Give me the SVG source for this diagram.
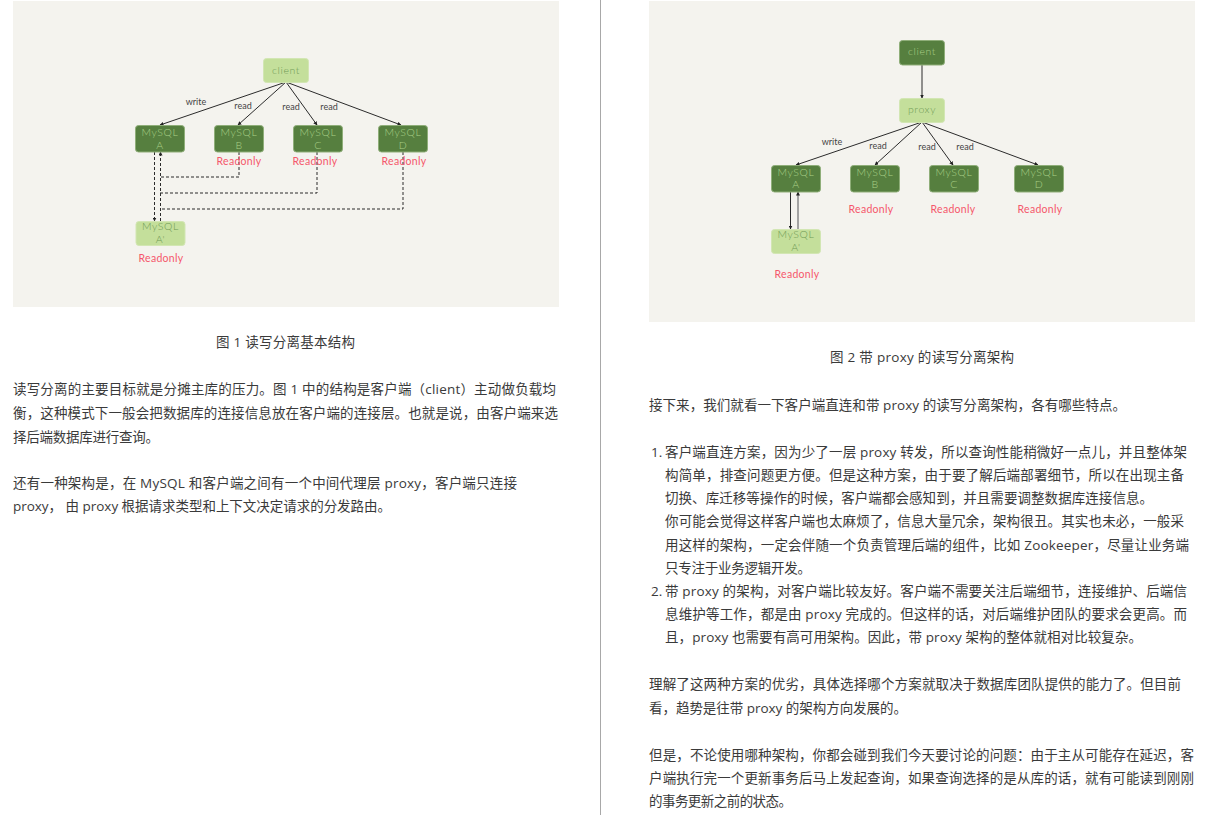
<svg xmlns="http://www.w3.org/2000/svg" width="1210" height="815" viewBox="0 0 1210 815">
<style>
.t{font-family:"Open Sans","Noto Sans CJK SC",sans-serif;font-size:13.5px;fill:#3a3a3a}
.n{font-family:"Lato","Liberation Sans",sans-serif;font-size:10.500px;text-anchor:middle;font-weight:300;letter-spacing:.6px}
.dk{fill:#567f3f;stroke:#8fae79;stroke-width:1}
.lt{fill:#c4df9b;stroke:#d2e6b3;stroke-width:1}
.dt{fill:#a9cf87}
.lg{fill:#6f9a55}
.l{font-family:"Lato","Liberation Sans",sans-serif;font-size:9px;fill:#444;text-anchor:middle}
.r{font-family:"Lato","Liberation Sans",sans-serif;font-size:10.500px;fill:#f5576b;text-anchor:middle;letter-spacing:.3px}
.a{fill:none;stroke:#2b2b2b;stroke-width:1;marker-end:url(#ah)}
.d{fill:none;stroke:#2b2b2b;stroke-width:1;stroke-dasharray:3 2}
.da{marker-end:url(#ah)}
</style>
<defs><marker id="ah" markerWidth="4" markerHeight="4" refX="3.500" refY="2" orient="auto" markerUnits="userSpaceOnUse"><path d="M0,0L4,2L0,4Z" fill="#222"/></marker></defs>
<rect width="1210" height="815" fill="#fff"/>
<rect x="13" y="1" width="546" height="306" fill="#f4f3ee"/>
<rect x="649" y="1" width="546" height="321" fill="#f4f3ee"/>
<line x1="600.5" y1="0" x2="600.5" y2="815" stroke="#a8a8a8"/>
<g id="connectors">
<path class="a" d="M286,82L160,125"/><path class="a" d="M286,82L238,125"/><path class="a" d="M286,82L317,125"/><path class="a" d="M286,82L401,125"/>
<path class="d da" d="M154.500,152V221"/><path class="d da" d="M160.500,221V152"/>
<path class="d" d="M239,152V177H160"/><path class="d" d="M317,152V193H160"/><path class="d" d="M403,152V209H160"/>
<path class="a" d="M922,65V98"/><path class="a" d="M922,122L796,165"/><path class="a" d="M922,122L875,165"/><path class="a" d="M922,122L953,165"/><path class="a" d="M922,122L1038,165"/>
<path class="a" d="M790.500,192V229"/><path class="a" d="M798,229V192" style="stroke:#888;stroke-width:1.500"/>
</g>
<g id="d1-client"><rect class="lt" x="263.500" y="58.500" width="45" height="24" rx="3"/><text class="n lg" x="286" y="74">client</text></g>
<g id="d1-a"><rect class="dk" x="135.500" y="125.500" width="49" height="26.500" rx="3"/><text class="n dt" x="160" y="136">MySQL</text><text class="n dt" x="160" y="149">A</text></g>
<g id="d1-b"><rect class="dk" x="214.500" y="125.500" width="49" height="26.500" rx="3"/><text class="n dt" x="239" y="136">MySQL</text><text class="n dt" x="239" y="149">B</text></g>
<g id="d1-c"><rect class="dk" x="293.500" y="125.500" width="49" height="26.500" rx="3"/><text class="n dt" x="318" y="136">MySQL</text><text class="n dt" x="318" y="149">C</text></g>
<g id="d1-d"><rect class="dk" x="378.500" y="125.500" width="49" height="26.500" rx="3"/><text class="n dt" x="403" y="136">MySQL</text><text class="n dt" x="403" y="149">D</text></g>
<g id="d1-a2"><rect class="lt" x="136" y="221.500" width="49" height="24" rx="3"/><text class="n lg" x="160.500" y="230">MySQL</text><text class="n lg" x="160.500" y="243">A'</text></g>
<g id="d2-client"><rect class="dk" x="899.500" y="40.500" width="45" height="24.500" rx="3"/><text class="n dt" x="922" y="55">client</text></g>
<g id="d2-proxy"><rect class="lt" x="899.500" y="98.500" width="45" height="24" rx="3"/><text class="n lg" x="922" y="113">proxy</text></g>
<g id="d2-a"><rect class="dk" x="771.500" y="165.500" width="49" height="26.500" rx="3"/><text class="n dt" x="796" y="176">MySQL</text><text class="n dt" x="796" y="188">A</text></g>
<g id="d2-b"><rect class="dk" x="850.500" y="165.500" width="49" height="26.500" rx="3"/><text class="n dt" x="875" y="176">MySQL</text><text class="n dt" x="875" y="188">B</text></g>
<g id="d2-c"><rect class="dk" x="929.500" y="165.500" width="49" height="26.500" rx="3"/><text class="n dt" x="954" y="176">MySQL</text><text class="n dt" x="954" y="188">C</text></g>
<g id="d2-d"><rect class="dk" x="1014.500" y="165.500" width="49" height="26.500" rx="3"/><text class="n dt" x="1039" y="176">MySQL</text><text class="n dt" x="1039" y="188">D</text></g>
<g id="d2-a2"><rect class="lt" x="771.500" y="229.500" width="49" height="24" rx="3"/><text class="n lg" x="796" y="238">MySQL</text><text class="n lg" x="796" y="251">A'</text></g>
<g id="labels">
<text class="l" x="196" y="105">write</text><text class="l" x="243" y="109">read</text><text class="l" x="291" y="110">read</text><text class="l" x="329" y="110">read</text>
<text class="l" x="832" y="145">write</text><text class="l" x="878" y="149">read</text><text class="l" x="927" y="150">read</text><text class="l" x="965" y="150">read</text>
<text class="r" x="239" y="165">Readonly</text><text class="r" x="315" y="165">Readonly</text><text class="r" x="404" y="165">Readonly</text><text class="r" x="161" y="262">Readonly</text>
<text class="r" x="871" y="213">Readonly</text><text class="r" x="953" y="213">Readonly</text><text class="r" x="1040" y="213">Readonly</text><text class="r" x="797" y="278">Readonly</text>
</g>
<g id="text">
<text class="t" x="216" y="347" textLength="139">图 1 读写分离基本结构</text>
<text class="t" x="13" y="394" textLength="543">读写分离的主要目标就是分摊主库的压力。图 1 中的结构是客户端（client）主动做负载均</text>
<text class="t" x="13" y="418" textLength="545">衡，这种模式下一般会把数据库的连接信息放在客户端的连接层。也就是说，由客户端来选</text>
<text class="t" x="13" y="442" textLength="146">择后端数据库进行查询。</text>
<text class="t" x="13" y="488" textLength="504">还有一种架构是，在 MySQL 和客户端之间有一个中间代理层 proxy，客户端只连接</text>
<text class="t" x="13" y="511" textLength="378">proxy， 由 proxy 根据请求类型和上下文决定请求的分发路由。</text>
<text class="t" x="830" y="362" textLength="184">图 2 带 proxy 的读写分离架构</text>
<text class="t" x="649" y="410" textLength="477">接下来，我们就看一下客户端直连和带 proxy 的读写分离架构，各有哪些特点。</text>
<text class="t" x="651" y="457">1.</text>
<text class="t" x="665" y="457" textLength="522">客户端直连方案，因为少了一层 proxy 转发，所以查询性能稍微好一点儿，并且整体架</text>
<text class="t" x="665" y="480" textLength="519">构简单，排查问题更方便。但是这种方案，由于要了解后端部署细节，所以在出现主备</text>
<text class="t" x="665" y="503" textLength="488">切换、库迁移等操作的时候，客户端都会感知到，并且需要调整数据库连接信息。</text>
<text class="t" x="665" y="526" textLength="519">你可能会觉得这样客户端也太麻烦了，信息大量冗余，架构很丑。其实也未必，一般采</text>
<text class="t" x="665" y="550" textLength="524">用这样的架构，一定会伴随一个负责管理后端的组件，比如 Zookeeper，尽量让业务端</text>
<text class="t" x="665" y="573" textLength="146">只专注于业务逻辑开发。</text>
<text class="t" x="651" y="596">2.</text>
<text class="t" x="665" y="596" textLength="522">带 proxy 的架构，对客户端比较友好。客户端不需要关注后端细节，连接维护、后端信</text>
<text class="t" x="665" y="619" textLength="522">息维护等工作，都是由 proxy 完成的。但这样的话，对后端维护团队的要求会更高。而</text>
<text class="t" x="665" y="642" textLength="477">且，proxy 也需要有高可用架构。因此，带 proxy 架构的整体就相对比较复杂。</text>
<text class="t" x="649" y="689" textLength="532">理解了这两种方案的优劣，具体选择哪个方案就取决于数据库团队提供的能力了。但目前</text>
<text class="t" x="649" y="713" textLength="258">看，趋势是往带 proxy 的架构方向发展的。</text>
<text class="t" x="649" y="760" textLength="545">但是，不论使用哪种架构，你都会碰到我们今天要讨论的问题：由于主从可能存在延迟，客</text>
<text class="t" x="649" y="783" textLength="545">户端执行完一个更新事务后马上发起查询，如果查询选择的是从库的话，就有可能读到刚刚</text>
<text class="t" x="649" y="806" textLength="143">的事务更新之前的状态。</text>
</g>
</svg>
